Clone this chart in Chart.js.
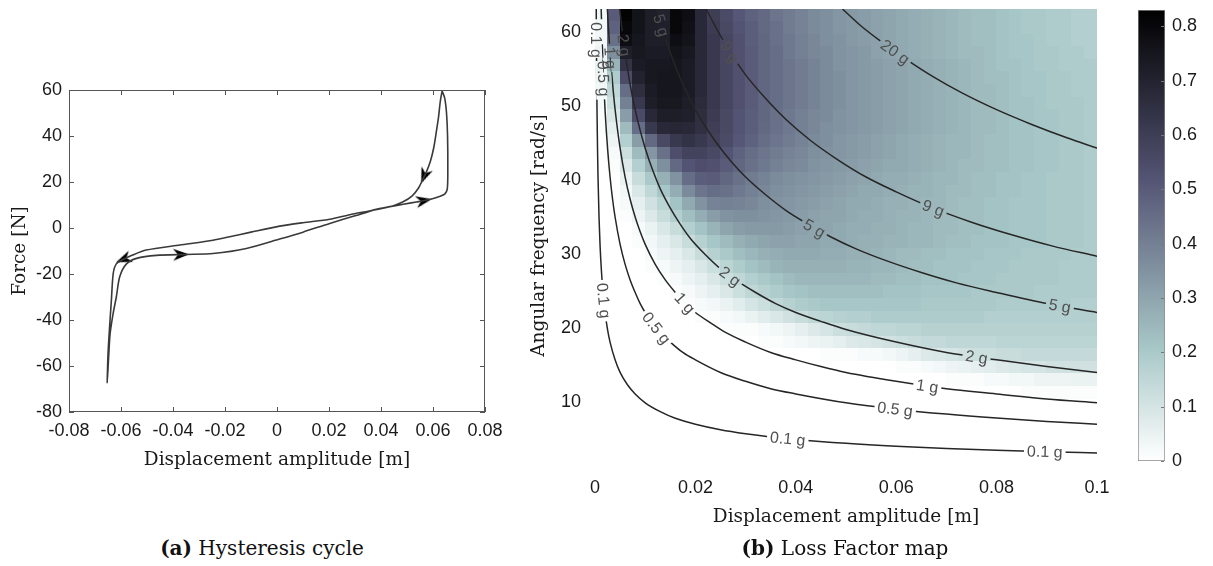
<!DOCTYPE html>
<html>
<head>
<meta charset="utf-8">
<title>Hysteresis cycle and loss factor map</title>
<script src="https://cdn.jsdelivr.net/npm/chart.js@4.4.1/dist/chart.umd.min.js"></script>
<style>
  html, body { margin: 0; padding: 0; background: #fff; }
  #page { position: relative; width: 1213px; height: 566px; overflow: hidden; }
  #page canvas { position: absolute; }
  .caption { position: absolute; top: 536px; font-family: "DejaVu Serif", serif; font-size: 20px; color: #111; white-space: nowrap; transform: translateX(-50%); }
</style>
</head>
<body>
<div id="page">
  <canvas id="cycleChart" width="525" height="480" style="left:0;top:0"></canvas>
  <canvas id="mapChart" width="610" height="540" style="left:500px;top:0"></canvas>
  <canvas id="barChart" width="93" height="480" style="left:1120px;top:0"></canvas>
  <div class="caption" style="left:262px"><b>(a)</b> Hysteresis cycle</div>
  <div class="caption" style="left:845px"><b>(b)</b> Loss Factor map</div>
</div>
<script>
(function () {
    // (a) hysteresis cycle, traced from the peak downwards and back
    var dispTicks = [-0.08, -0.06, -0.04, -0.02, 0, 0.02, 0.04, 0.06, 0.08];
    var forceTicks = [-80, -60, -40, -20, 0, 20, 40, 60];
    var cycleDisp = [0.0635, 0.0628, 0.0621, 0.0613, 0.0603, 0.059, 0.0575, 0.056, 0.0545, 0.052,
        0.0485, 0.0445, 0.040, 0.035, 0.028, 0.0203, 0.01, 0.001, -0.01, -0.0182,
        -0.0246, -0.0374, -0.0503, -0.056, -0.0592, -0.0618, -0.063, -0.0637, -0.0645, -0.065,
        -0.0653, -0.0647, -0.0642, -0.063, -0.0618, -0.0605, -0.0579, -0.054, -0.0464, -0.0349,
        -0.0246, -0.0118, 0.001, 0.01, 0.0203, 0.03, 0.0382, 0.0485, 0.0536, 0.0587,
        0.0625, 0.0645, 0.0655, 0.0657, 0.0656, 0.0652, 0.0645, 0.0635];
    var cycleForce = [59.6, 55, 48, 42, 35, 29, 24.5, 21, 17.5, 14,
        11.4, 9.6, 8.4, 7.3, 5.8, 3.8, 2.3, 0.8, -1.8, -3.8,
        -5.3, -7.4, -9.6, -12, -13.7, -15.6, -19.8, -31.4, -45, -55,
        -67.3, -55, -46, -37, -30, -21.2, -15.6, -13.2, -11.9, -11.5,
        -11.1, -8.9, -4.8, -1.8, 2.0, 5.3, 8.1, 10.3, 11.3, 12.4,
        13.7, 14.7, 17, 25, 40, 50, 56.5, 59.6];
    var arrowDisp = [0.0566, 0.0565, -0.059, -0.0369];
    var arrowForce = [22.6, 11.9, -13.6, -11.55];
    var arrowAngles = [202, 79, 248, 88];

    // (b) loss factor map: cell centres, values in hundredths
    var ampCenters = [0.00125, 0.00375, 0.00625, 0.00875, 0.01125, 0.01375, 0.01625, 0.01875, 0.02125, 0.02375,
        0.02625, 0.02875, 0.03125, 0.03375, 0.03625, 0.03875, 0.04125, 0.04375, 0.04625, 0.04875,
        0.05125, 0.05375, 0.05625, 0.05875, 0.06125, 0.06375, 0.06625, 0.06875, 0.07125, 0.07375,
        0.07625, 0.07875, 0.08125, 0.08375, 0.08625, 0.08875, 0.09125, 0.09375, 0.09625, 0.09875];
    var freqCenters = [62.25, 60.55, 58.85, 57.15, 55.45, 53.75, 52.05, 50.35, 48.65, 46.95,
        45.25, 43.55, 41.85, 40.15, 38.45, 36.75, 35.05, 33.35, 31.65, 29.95,
        28.25, 26.55, 24.85, 23.15, 21.45, 19.75, 18.05, 16.35, 14.65, 12.95,
        11.25, 9.55, 7.85, 6.15, 4.45, 2.75];
    var lossGrid = [
        [3,50,82,76,72,70,80,78,68,60, 55,51,48,46,43,41,39,37,36,34, 33,32,31,30,29,28,27,26,25,24, 23,23,22,21,20,20,19,19,18,18],
        [3,48,80,76,72,71,80,77,68,61, 56,52,49,46,44,41,39,37,36,34, 33,32,31,30,29,28,27,26,25,24, 23,23,22,21,20,20,19,19,18,18],
        [3,44,78,75,72,72,78,76,68,62, 57,53,49,47,44,42,40,38,36,35, 33,32,31,30,29,28,27,26,25,24, 23,23,22,21,21,20,19,19,18,18],
        [4,36,72,74,73,73,76,74,68,62, 57,53,50,47,45,42,40,38,37,35, 34,33,31,30,29,28,27,26,25,24, 24,23,22,21,21,20,20,19,19,18],
        [5,26,64,73,74,74,75,73,68,62, 57,53,50,47,45,43,41,39,37,35, 34,33,32,31,30,29,28,27,26,25, 24,23,22,22,21,20,20,19,19,19],
        [4,19,55,70,74,75,75,73,68,62, 57,53,50,47,45,43,41,39,37,36, 34,33,32,31,30,29,28,27,26,25, 24,23,23,22,21,21,20,20,19,19],
        [3,15,45,66,73,75,75,73,68,62, 57,53,50,47,45,43,41,39,37,36, 34,33,32,31,30,29,28,27,26,25, 24,24,23,22,21,21,20,20,19,19],
        [2,12,40,62,72,74,74,72,67,62, 57,53,50,47,45,43,41,39,37,36, 34,33,32,31,30,29,28,27,26,25, 24,24,23,22,22,21,20,20,20,19],
        [1,9,32,55,68,72,72,71,66,61, 56,52,49,47,44,42,40,38,37,35, 34,33,32,31,30,29,28,27,26,25, 24,24,23,22,22,21,21,20,20,19],
        [1,6,24,45,62,68,69,68,65,60, 56,52,49,46,44,42,40,38,36,35, 34,33,32,31,30,29,28,27,26,25, 24,24,23,22,22,21,21,20,20,19],
        [0,4,18,32,46,56,62,64,62,59, 55,51,48,45,43,41,39,37,36,34, 33,32,31,30,29,28,27,26,25,25, 24,23,23,22,22,21,21,20,20,19],
        [0,2,12,24,34,44,54,58,58,56, 52,48,45,43,41,39,38,36,35,34, 33,32,31,30,29,28,27,26,25,25, 24,23,23,22,22,21,21,20,20,19],
        [0,1,8,18,27,36,46,52,54,53, 50,47,44,42,40,38,37,35,34,33, 32,31,30,29,29,28,27,26,25,24, 24,23,23,22,22,21,21,20,20,19],
        [0,0,5,13,20,27,35,45,49,50, 47,44,41,39,37,36,35,34,33,32, 31,30,29,28,28,27,26,25,25,24, 23,23,22,22,21,21,20,20,20,19],
        [0,0,3,9,15,21,28,37,43,45, 44,42,40,38,36,35,34,33,32,31, 30,29,29,28,27,26,26,25,24,24, 23,23,22,22,21,21,20,20,20,19],
        [0,0,2,6,11,16,22,29,35,39, 40,39,38,36,35,34,33,32,31,30, 29,29,28,27,27,26,25,25,24,23, 23,22,22,21,21,21,20,20,20,19],
        [0,0,1,4,8,13,18,23,28,32, 35,36,36,35,34,33,32,31,30,30, 29,28,28,27,26,26,25,24,24,23, 23,22,22,21,21,21,20,20,20,19],
        [0,0,0,2,5,9,13,18,22,26, 30,32,33,33,33,32,31,30,30,29, 28,28,27,27,26,25,25,24,24,23, 23,22,22,21,21,21,20,20,20,19],
        [0,0,0,1,3,6,9,13,17,21, 24,27,29,30,31,31,30,30,29,29, 28,27,27,26,26,25,25,24,23,23, 22,22,22,21,21,21,20,20,20,19],
        [0,0,0,0,2,4,6,9,13,17, 20,23,25,27,28,29,29,29,28,28, 27,27,26,25,24,24,23,23,22,22, 22,21,21,21,20,20,20,20,19,19],
        [0,0,0,0,1,2,4,6,9,12, 16,19,22,24,26,27,27,27,27,27, 26,26,25,25,24,23,23,22,22,22, 21,21,21,20,20,20,20,19,19,19],
        [0,0,0,0,0,1,2,4,6,9, 12,15,18,20,22,24,25,25,25,25, 25,25,24,24,23,23,22,22,22,21, 21,21,20,20,20,20,20,19,19,19],
        [0,0,0,0,0,0,1,2,4,6, 9,12,15,17,19,21,22,23,23,23, 23,23,23,22,22,22,21,21,21,21, 20,20,20,20,20,19,19,19,19,19],
        [0,0,0,0,0,0,0,1,2,3, 5,7,10,12,15,17,19,20,21,21, 21,21,21,21,21,21,20,20,20,20, 20,20,19,19,19,19,19,19,18,18],
        [0,0,0,0,0,0,0,0,1,1, 2,3,5,7,9,11,13,15,16,17, 18,18,19,19,19,19,19,19,19,19, 19,18,18,18,18,18,18,18,18,18],
        [0,0,0,0,0,0,0,0,0,0, 1,1,1,2,3,4,6,8,10,12, 13,14,15,15,16,16,17,17,17,17, 17,17,17,17,17,17,17,17,17,17],
        [0,0,0,0,0,0,0,0,0,0, 0,0,0,1,1,2,3,4,5,6, 8,9,10,11,12,13,14,14,15,15, 15,15,16,16,16,16,16,16,16,16],
        [0,0,0,0,0,0,0,0,0,0, 0,0,0,0,0,0,0,0,1,1, 1,2,2,3,4,6,8,9,10,11, 12,12,13,13,14,14,14,14,14,14],
        [0,0,0,0,0,0,0,0,0,0, 0,0,0,0,0,0,0,0,0,0, 0,0,0,0,1,1,2,3,4,5, 6,7,8,9,10,10,11,11,11,11],
        [0,0,0,0,0,0,0,0,0,0, 0,0,0,0,0,0,0,0,0,0, 0,0,0,0,0,0,0,0,1,1, 1,2,2,3,3,4,4,4,5,5],
        [0,0,0,0,0,0,0,0,0,0, 0,0,0,0,0,0,0,0,0,0, 0,0,0,0,0,0,0,0,0,0, 0,0,0,0,1,1,1,1,1,1],
        [0,0,0,0,0,0,0,0,0,0, 0,0,0,0,0,0,0,0,0,0, 0,0,0,0,0,0,0,0,0,0, 0,0,0,0,0,0,0,0,0,0],
        [0,0,0,0,0,0,0,0,0,0, 0,0,0,0,0,0,0,0,0,0, 0,0,0,0,0,0,0,0,0,0, 0,0,0,0,0,0,0,0,0,0],
        [0,0,0,0,0,0,0,0,0,0, 0,0,0,0,0,0,0,0,0,0, 0,0,0,0,0,0,0,0,0,0, 0,0,0,0,0,0,0,0,0,0],
        [0,0,0,0,0,0,0,0,0,0, 0,0,0,0,0,0,0,0,0,0, 0,0,0,0,0,0,0,0,0,0, 0,0,0,0,0,0,0,0,0,0],
        [0,0,0,0,0,0,0,0,0,0, 0,0,0,0,0,0,0,0,0,0, 0,0,0,0,0,0,0,0,0,0, 0,0,0,0,0,0,0,0,0,0]
    ];
    var ampTicks = [0, 0.02, 0.04, 0.06, 0.08, 0.1];
    var freqTicks = [10, 20, 30, 40, 50, 60];
    var barTicks = [0, 0.1, 0.2, 0.3, 0.4, 0.5, 0.6, 0.7, 0.8];
    var lossMax = 0.83;

    // constant acceleration contours
    var contourLevels = ['0.1 g', '0.5 g', '1 g', '2 g', '5 g', '9 g', '20 g'];
    var contourAmp = [
        [0.000246, 0.0003, 0.0004, 0.0005, 0.0006, 0.0008, 0.001, 0.0013, 0.0016, 0.002, 0.0025, 0.003, 0.004, 0.005, 0.0065, 0.008, 0.01, 0.013, 0.016, 0.02, 0.025, 0.03, 0.035, 0.04, 0.05, 0.06, 0.07, 0.08, 0.09, 0.1],
        [0.00123, 0.0014, 0.0017, 0.002, 0.0025, 0.003, 0.0035, 0.004, 0.005, 0.006, 0.007, 0.008, 0.009, 0.01, 0.0115, 0.013, 0.015, 0.0175, 0.02, 0.025, 0.03, 0.035, 0.04, 0.05, 0.06, 0.07, 0.08, 0.09, 0.1],
        [0.00246, 0.0028, 0.0032, 0.0037, 0.0043, 0.005, 0.006, 0.007, 0.008, 0.009, 0.01, 0.012, 0.014, 0.016, 0.018, 0.02, 0.023, 0.026, 0.03, 0.035, 0.04, 0.045, 0.05, 0.06, 0.07, 0.08, 0.09, 0.1],
        [0.00493, 0.0055, 0.0062, 0.007, 0.008, 0.009, 0.01, 0.0115, 0.013, 0.015, 0.017, 0.019, 0.022, 0.025, 0.028, 0.032, 0.036, 0.04, 0.045, 0.05, 0.06, 0.07, 0.08, 0.09, 0.1],
        [0.01232, 0.0135, 0.015, 0.017, 0.019, 0.021, 0.024, 0.027, 0.03, 0.034, 0.038, 0.042, 0.047, 0.052, 0.058, 0.065, 0.072, 0.08, 0.09, 0.1],
        [0.02217, 0.024, 0.027, 0.03, 0.034, 0.038, 0.043, 0.048, 0.054, 0.06, 0.067, 0.075, 0.083, 0.091, 0.1],
        [0.0493, 0.053, 0.057, 0.062, 0.067, 0.073, 0.08, 0.087, 0.094, 0.1]
    ];
    var contourFreq = [
        [63.1, 57.2, 49.5, 44.3, 40.4, 35.0, 31.3, 27.5, 24.8, 22.1, 19.8, 18.1, 15.7, 14.0, 12.3, 11.1, 9.9, 8.7, 7.8, 7.0, 6.26, 5.72, 5.29, 4.95, 4.43, 4.04, 3.74, 3.50, 3.30, 3.13],
        [63.1, 59.2, 53.7, 49.5, 44.3, 40.4, 37.4, 35.0, 31.3, 28.6, 26.5, 24.8, 23.3, 22.1, 20.7, 19.4, 18.1, 16.7, 15.7, 14.0, 12.8, 11.8, 11.1, 9.9, 9.04, 8.37, 7.83, 7.38, 7.0],
        [63.1, 59.2, 55.4, 51.5, 47.8, 44.3, 40.4, 37.4, 35.0, 33.0, 31.3, 28.6, 26.5, 24.8, 23.3, 22.1, 20.7, 19.4, 18.1, 16.7, 15.7, 14.8, 14.0, 12.8, 11.8, 11.1, 10.4, 9.9],
        [63.1, 59.7, 56.3, 52.9, 49.5, 46.7, 44.3, 41.3, 38.8, 36.2, 34.0, 32.1, 29.9, 28.0, 26.5, 24.8, 23.3, 22.1, 20.9, 19.8, 18.1, 16.7, 15.7, 14.8, 14.0],
        [63.1, 60.3, 57.2, 53.7, 50.8, 48.3, 45.2, 42.6, 40.4, 38.0, 35.9, 34.2, 32.3, 30.7, 29.1, 27.5, 26.1, 24.8, 23.3, 22.1],
        [63.1, 60.7, 57.2, 54.2, 51.0, 48.2, 45.3, 42.9, 40.4, 38.4, 36.3, 34.3, 32.6, 31.1, 29.7],
        [63.1, 60.8, 58.7, 56.3, 54.1, 51.8, 49.5, 47.5, 45.7, 44.3]
    ];
    var labelLevel = [0, 0, 0, 0, 1, 1, 1, 2, 2, 2, 3, 3, 3, 4, 4, 4, 5, 5, 6];
    var labelAmp = [0.000283, 0.00175, 0.0384, 0.0896, 0.0017, 0.01226, 0.0598, 0.00307, 0.0179, 0.0662,
        0.0058, 0.0269, 0.076, 0.0132, 0.0437, 0.0926, 0.0269, 0.0674, 0.0598];
    var labelFreq = [58.9, 23.7, 5.05, 3.31, 53.7, 20.0, 9.06, 56.5, 23.4, 12.17,
        58.2, 27.0, 16.07, 60.9, 33.5, 23.0, 57.3, 36.2, 57.3];

    var serif = '"DejaVu Serif", serif';
    var sans = '"Liberation Sans", Arial, sans-serif';
    var ink = '#1a1a1a';
    var labelFont = '16px ' + sans;

    // reversed "bone" colour map, 0 -> white, lossMax -> black
    function boneR(v) {
        var t = 1 - Math.min(Math.max(v / lossMax, 0), 1);
        var hr = Math.min(1, t * 8 / 3);
        var hg = Math.min(1, Math.max(0, t * 8 / 3 - 1));
        var hb = Math.min(1, Math.max(0, t * 4 - 3));
        var r = (7 * t + hb) / 8, g = (7 * t + hg) / 8, b = (7 * t + hr) / 8;
        return 'rgb(' + Math.round(r * 255) + ',' + Math.round(g * 255) + ',' + Math.round(b * 255) + ')';
    }

    function xy(xs, ys) {
        return xs.map(function (x, i) { return { x: x, y: ys[i] }; });
    }

    function fmt(v) {
        return String(+Number(v).toFixed(2));
    }

    function fixTicks(list) {
        return function (scale) {
            scale.ticks = list.map(function (v) { return { value: v }; });
        };
    }

    // fixed axis size, and no extra room for overhanging tick labels
    function fitTo(size) {
        return function (s) {
            if (s.isHorizontal()) s.height = size; else s.width = size;
            s.paddingLeft = s.paddingRight = s.paddingTop = s.paddingBottom = 0;
        };
    }

    // arrow head used as a point style
    var arrowHead = document.createElement('canvas');
    arrowHead.width = 13;
    arrowHead.height = 16;
    (function () {
        var g = arrowHead.getContext('2d');
        g.fillStyle = '#000';
        g.beginPath();
        g.moveTo(6.5, 0);
        g.lineTo(12.5, 16);
        g.lineTo(6.5, 11);
        g.lineTo(0.5, 16);
        g.closePath();
        g.fill();
    })();

    // box with inward ticks on all sides
    var boxPlugin = {
        id: 'matlabBox',
        afterDatasetsDraw: function (chart) {
            var ctx = chart.ctx, a = chart.chartArea, xs = chart.scales.x, ys = chart.scales.y, t = 5;
            ctx.save();
            ctx.strokeStyle = '#555';
            ctx.lineWidth = 1;
            ctx.strokeRect(Math.round(a.left) + 0.5, Math.round(a.top) + 0.5, Math.round(a.width) - 1, Math.round(a.height) - 1);
            ctx.beginPath();
            xs.ticks.forEach(function (tk) {
                var px = Math.round(xs.getPixelForValue(tk.value)) + 0.5;
                ctx.moveTo(px, a.bottom); ctx.lineTo(px, a.bottom - t);
                ctx.moveTo(px, a.top); ctx.lineTo(px, a.top + t);
            });
            ys.ticks.forEach(function (tk) {
                var py = Math.round(ys.getPixelForValue(tk.value)) + 0.5;
                ctx.moveTo(a.left, py); ctx.lineTo(a.left + t, py);
                ctx.moveTo(a.right, py); ctx.lineTo(a.right - t, py);
            });
            ctx.stroke();
            ctx.restore();
        }
    };

    new Chart(document.getElementById('cycleChart'), {
        type: 'scatter',
        data: {
            datasets: [
                {
                    data: xy(cycleDisp, cycleForce),
                    showLine: true,
                    borderColor: '#3a3a3a',
                    borderWidth: 1.6,
                    pointRadius: 0,
                    tension: 0.25
                },
                {
                    data: xy(arrowDisp, arrowForce),
                    showLine: false,
                    pointStyle: arrowHead,
                    pointRotation: arrowAngles,
                    pointRadius: 7
                }
            ]
        },
        options: {
            responsive: false,
            animation: false,
            events: [],
            layout: { padding: { top: 90, right: 40, left: 9, bottom: 9 } },
            plugins: { legend: { display: false }, tooltip: { enabled: false } },
            scales: {
                x: {
                    min: -0.08, max: 0.08,
                    afterBuildTicks: fixTicks(dispTicks),
                    afterFit: fitTo(59),
                    grid: { display: false, drawTicks: false },
                    border: { display: false },
                    ticks: { font: { family: sans, size: 18 }, color: ink, padding: 8, maxRotation: 0, autoSkip: false, callback: fmt },
                    title: { display: true, text: 'Displacement amplitude [m]', font: { family: serif, size: 18.5 }, color: ink, padding: 0 }
                },
                y: {
                    min: -80, max: 60,
                    afterBuildTicks: fixTicks(forceTicks),
                    afterFit: fitTo(60),
                    grid: { display: false, drawTicks: false },
                    border: { display: false },
                    ticks: { font: { family: sans, size: 18 }, color: ink, padding: 7, autoSkip: false },
                    title: { display: true, text: 'Force [N]', font: { family: serif, size: 18.5 }, color: ink, padding: 0 }
                }
            }
        },
        plugins: [boxPlugin]
    });

    function labelBoxes(chart) {
        var xs = chart.scales.x, ys = chart.scales.y, ctx = chart.ctx;
        ctx.save();
        ctx.font = labelFont;
        var boxes = labelLevel.map(function (lv, i) {
            var ax = contourAmp[lv], fy = contourFreq[lv], k = 0;
            while (k < ax.length - 2 && ax[k + 1] < labelAmp[i]) k++;
            var dx = xs.getPixelForValue(ax[k + 1]) - xs.getPixelForValue(ax[k]);
            var dy = ys.getPixelForValue(fy[k + 1]) - ys.getPixelForValue(fy[k]);
            return {
                x: xs.getPixelForValue(labelAmp[i]),
                y: ys.getPixelForValue(labelFreq[i]),
                a: Math.atan2(dy, dx),
                text: contourLevels[lv],
                w: ctx.measureText(contourLevels[lv]).width + 6,
                h: 16
            };
        });
        ctx.restore();
        return boxes;
    }

    var heatPlugin = {
        id: 'lossHeat',
        beforeDatasetsDraw: function (chart) {
            var ctx = chart.ctx, xs = chart.scales.x, ys = chart.scales.y, a = chart.chartArea;
            var hx = (ampCenters[1] - ampCenters[0]) / 2;
            var hy = (freqCenters[0] - freqCenters[1]) / 2;
            ctx.save();
            ctx.beginPath();
            ctx.rect(a.left, a.top, a.width, a.height);
            ctx.clip();
            lossGrid.forEach(function (row, r) {
                var y0 = Math.floor(ys.getPixelForValue(freqCenters[r] + hy));
                var y1 = Math.ceil(ys.getPixelForValue(freqCenters[r] - hy));
                row.forEach(function (v, c) {
                    var x0 = Math.floor(xs.getPixelForValue(ampCenters[c] - hx));
                    var x1 = Math.ceil(xs.getPixelForValue(ampCenters[c] + hx));
                    ctx.fillStyle = boneR(v / 100);
                    ctx.fillRect(x0, y0, x1 - x0, y1 - y0);
                });
            });
            ctx.restore();

            // keep the contour lines out of the label boxes
            var boxes = chart.$labelBoxes = labelBoxes(chart);
            ctx.save();
            ctx.beginPath();
            ctx.rect(a.left - 2, a.top - 2, a.width + 4, a.height + 4);
            boxes.forEach(function (b) {
                var c = Math.cos(b.a), s = Math.sin(b.a), hw = b.w / 2, hh = b.h / 2;
                [[-hw, -hh], [hw, -hh], [hw, hh], [-hw, hh]].forEach(function (p, i) {
                    var px = b.x + p[0] * c - p[1] * s, py = b.y + p[0] * s + p[1] * c;
                    if (i === 0) ctx.moveTo(px, py); else ctx.lineTo(px, py);
                });
                ctx.closePath();
            });
            ctx.clip('evenodd');
        },
        afterDatasetsDraw: function (chart) {
            var ctx = chart.ctx;
            ctx.restore();
            ctx.save();
            ctx.font = labelFont;
            ctx.fillStyle = '#505050';
            ctx.textAlign = 'center';
            ctx.textBaseline = 'middle';
            (chart.$labelBoxes || []).forEach(function (b) {
                ctx.save();
                ctx.translate(b.x, b.y);
                ctx.rotate(b.a);
                ctx.fillText(b.text, 0, 1);
                ctx.restore();
            });
            ctx.restore();
        }
    };

    new Chart(document.getElementById('mapChart'), {
        type: 'scatter',
        data: {
            datasets: contourLevels.map(function (lv, i) {
                return {
                    label: lv,
                    data: xy(contourAmp[i], contourFreq[i]),
                    showLine: true,
                    borderColor: '#262626',
                    borderWidth: 1.5,
                    pointRadius: 0,
                    cubicInterpolationMode: 'monotone'
                };
            })
        },
        options: {
            responsive: false,
            animation: false,
            events: [],
            layout: { padding: { top: 9, right: 13, left: 28, bottom: 12 } },
            plugins: { legend: { display: false }, tooltip: { enabled: false } },
            scales: {
                x: {
                    min: 0, max: 0.1,
                    afterBuildTicks: fixTicks(ampTicks),
                    afterFit: fitTo(66),
                    grid: { display: false, drawTicks: false },
                    border: { display: false },
                    ticks: { font: { family: sans, size: 18 }, color: ink, padding: 15, maxRotation: 0, autoSkip: false, callback: fmt },
                    title: { display: true, text: 'Displacement amplitude [m]', font: { family: serif, size: 18.5 }, color: ink, padding: 0 }
                },
                y: {
                    min: 1.9, max: 63.1,
                    afterBuildTicks: fixTicks(freqTicks),
                    afterFit: fitTo(67),
                    grid: { display: false, drawTicks: false },
                    border: { display: false },
                    ticks: { font: { family: sans, size: 18 }, color: ink, padding: 14, autoSkip: false },
                    title: { display: true, text: 'Angular frequency [rad/s]', font: { family: serif, size: 18.5 }, color: ink, padding: 0 }
                }
            }
        },
        plugins: [heatPlugin]
    });

    var barTickPlugin = {
        id: 'barTicks',
        afterDatasetsDraw: function (chart) {
            var ctx = chart.ctx, a = chart.chartArea, ys = chart.scales.y;
            ctx.save();
            ctx.strokeStyle = '#777';
            ctx.lineWidth = 1;
            ctx.beginPath();
            barTicks.forEach(function (v) {
                var py = Math.round(ys.getPixelForValue(v)) + 0.5;
                ctx.moveTo(a.right - 4, py);
                ctx.lineTo(a.right - 1, py);
            });
            ctx.stroke();
            ctx.restore();
        }
    };

    new Chart(document.getElementById('barChart'), {
        type: 'bar',
        data: {
            labels: [''],
            datasets: [{
                data: [[0, lossMax]],
                backgroundColor: function (c) {
                    var area = c.chart.chartArea;
                    if (!area) return '#fff';
                    var grad = c.chart.ctx.createLinearGradient(0, area.bottom, 0, area.top);
                    for (var i = 0; i <= 24; i++) {
                        grad.addColorStop(i / 24, boneR(lossMax * i / 24));
                    }
                    return grad;
                },
                borderColor: '#888',
                borderWidth: 1,
                borderSkipped: false,
                barPercentage: 1,
                categoryPercentage: 1
            }]
        },
        options: {
            responsive: false,
            animation: false,
            events: [],
            layout: { padding: { top: 10, right: 0, left: 18, bottom: 19 } },
            plugins: { legend: { display: false }, tooltip: { enabled: false } },
            scales: {
                x: { display: false },
                y: {
                    position: 'right',
                    min: 0, max: lossMax,
                    afterBuildTicks: fixTicks(barTicks),
                    afterFit: fitTo(48),
                    grid: { display: false, drawTicks: false },
                    border: { display: false },
                    ticks: { font: { family: sans, size: 18 }, color: ink, padding: 7, autoSkip: false, callback: fmt }
                }
            }
        },
        plugins: [barTickPlugin]
    });
})();
</script>
</body>
</html>
